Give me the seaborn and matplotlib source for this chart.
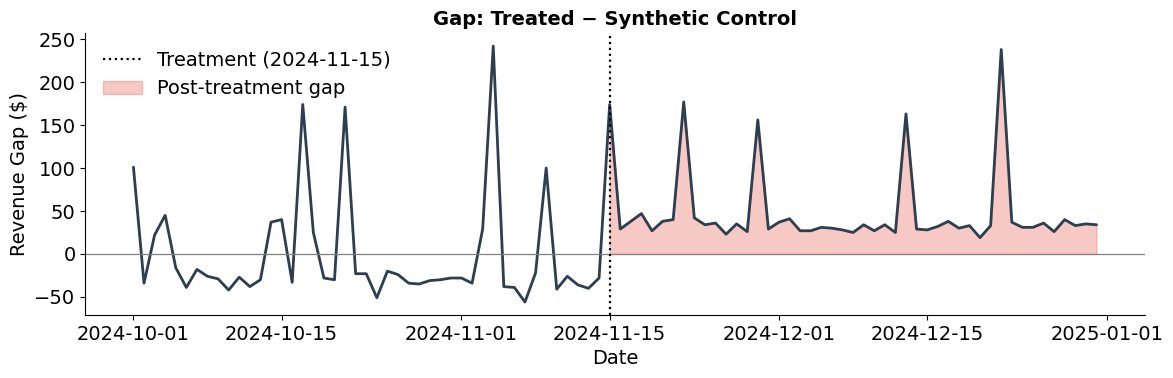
import seaborn as sns
import numpy as np
import pandas as pd
import matplotlib.pyplot as plt

# daily gap (treated - synthetic control), 2024-10-01 .. 2024-12-31
dates = pd.date_range("2024-10-01", "2024-12-31", freq="D")
gap = [
    101, -34, 22, 45, -16, -39, -18, -26, -29, -42,
    -27, -38, -30, 37, 40, -33, 174, 25, -28, -30,
    171, -23, -23, -51, -20, -24, -34, -35, -31, -30,
    -28, -28, -34, 29, 242, -38, -39, -56, -22, 100,
    -41, -26, -36, -40, -28, 174, 29, 38, 47, 27,
    38, 40, 177, 42, 34, 36, 23, 35, 26, 156,
    29, 37, 41, 27, 27, 31, 30, 28, 25, 34,
    27, 34, 25, 163, 29, 28, 32, 38, 30, 33,
    19, 33, 238, 37, 31, 31, 36, 26, 40, 33,
    35, 34,
]
treatment_date = pd.Timestamp("2024-11-15")
treatment_label = "Treatment (2024-11-15)"

df = pd.DataFrame({"date": dates, "gap": gap})
post = df[df["date"] >= treatment_date]

sns.set_style("ticks")
plt.rcParams["font.family"] = ["DejaVu Sans"]
plt.rcParams["text.color"] = "black"
plt.rcParams["axes.labelcolor"] = "black"

fig, ax = plt.subplots(figsize=(11.73, 3.78), dpi=100)
fig.subplots_adjust(left=0.0727, right=0.9758, top=0.912, bottom=0.167)

sns.lineplot(data=df, x="date", y="gap", ax=ax, color="#2c3e50", linewidth=2)
ax.axhline(0, color="gray", linewidth=0.9)
ax.axvline(treatment_date, color="black", linestyle=":", linewidth=1.6, label=treatment_label)
ax.fill_between(post["date"], 0, post["gap"], color="#e74c3c", alpha=0.3, label="Post-treatment gap")

ax.set_title("Gap: Treated \u2212 Synthetic Control", fontsize=14, fontweight="bold", color="black")
ax.set_xlabel("Date", fontsize=14)
ax.set_ylabel("Revenue Gap ($)", fontsize=14)
ax.tick_params(labelsize=14, colors="black")
ax.legend(loc="upper left", frameon=False, fontsize=14)
sns.despine(ax=ax)
for s in ax.spines.values():
    s.set_color("black")

plt.savefig("out.png", dpi=100)
